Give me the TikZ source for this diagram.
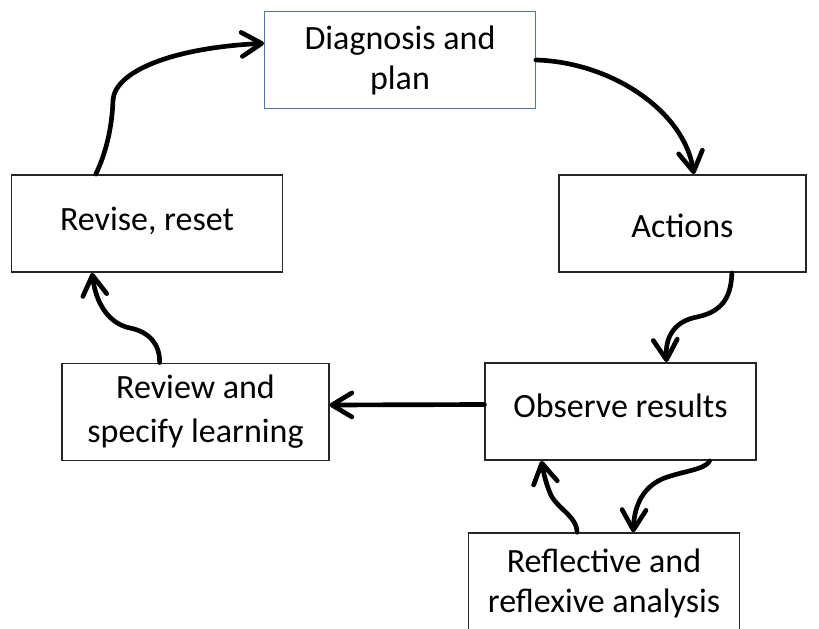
\documentclass[tikz,border=0pt]{standalone}
\usepackage{fontspec}
\setmainfont{Carlito}
\usetikzlibrary{arrows.meta}

\definecolor{boxblue}{RGB}{84,117,162}

\tikzset{
  stagebox/.style={draw=black!85, line width=1.1pt, fill=white, align=center,
    minimum width=203pt, minimum height=73pt, inner sep=2pt,
    font=\fontsize{25.5}{30}\selectfont},
  flow/.style={line width=3.5pt, line cap=round,
    -{Straight Barb[length=15pt,width=18pt,line cap=round,line join=round]}}
}

\begin{document}
\begin{tikzpicture}[x=0.75pt, y=-0.75pt]
    \useasboundingbox (0,0) rectangle (819,629);

    % Kasten
    \node[stagebox, draw=boxblue, line width=0.9pt] (diag) at (400,60) {Diagnosis and\\plan};
    \node[stagebox, text height=18pt, text depth=7.6pt] (rev) at (147,223.5) {Revise, reset};
    \node[stagebox, minimum width=185pt, text height=24pt, text depth=3pt] (act) at (682.5,223.5) {Actions};
    \node[stagebox, text height=18pt, text depth=9.1pt] (obs) at (620.5,411.5) {Observe results};
    \node[stagebox, minimum width=200pt, font=\fontsize{25.5}{33}\selectfont] (rvw) at (195.5,412) {Review and\\specify learning};
    \node[stagebox, minimum height=75pt] (refl) at (604,583) {Reflective and\\reflexive analysis};

    % Pfeile im Kreis
    \draw[flow] (rev.136) .. controls (105,155) and (112,130) .. (113,100)
        .. controls (115,72) and (170,48) .. (diag.173);
    \draw[flow] (diag.east) .. controls (610,62) and (684,110) .. (act.77);
    \draw[flow] (act.-45) .. controls (731,300) and (720,312) .. (697,317)
        .. controls (676,321) and (665,335) .. (obs.47.5);
    \draw[flow] ([yshift=5.25pt]obs.west) -- ([yshift=5.25pt]rvw.east);
    \draw[flow] (rvw.126) .. controls (160,345) and (150,332) .. (130,328)
        .. controls (110,324) and (96,305) .. (rev.222);

    % Reflexion
    \draw[flow] (obs.-29) .. controls (705,470) and (682,471) .. (662,479)
        .. controls (640,489) and (634,510) .. (refl.60);
    \draw[flow] (refl.118) .. controls (577,516) and (556,508) .. (550,493)
        .. controls (546,483) and (544,475) .. (obs.212.4);
\end{tikzpicture}
\end{document}
